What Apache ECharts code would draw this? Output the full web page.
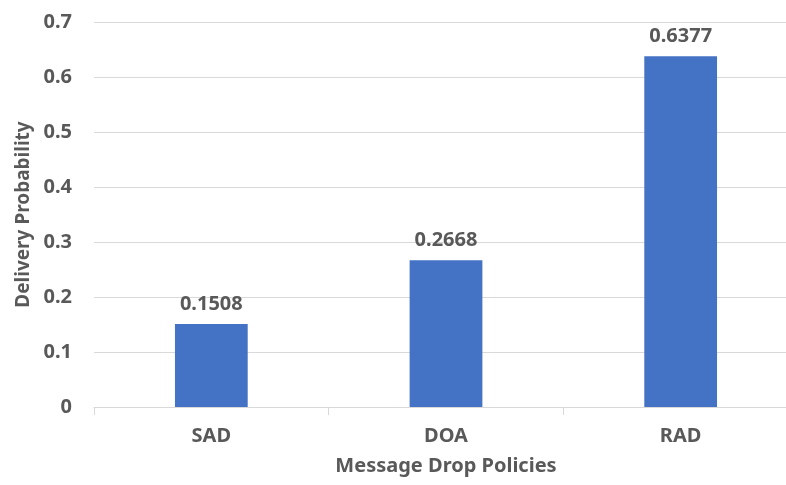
<!DOCTYPE html>
<html>
<head>
<meta charset="utf-8">
<script src="https://cdn.jsdelivr.net/npm/echarts@6/dist/echarts.min.js"></script>
<style>
  html, body { margin: 0; padding: 0; background: #fff; overflow: hidden; }
  /* plot area runs a bit past the right edge in the reference, so the chart is wider than the window */
  #chart { width: 798px; height: 485px; }
</style>
</head>
<body>
<div id="chart"></div>
<script>
  // data
  var policies = ['SAD', 'DOA', 'RAD'];
  var deliveryProb = [0.1508, 0.2668, 0.6377];

  var textGray = '#595959';
  var fontFam = '"Noto Sans", "Open Sans", sans-serif';

  var chart = echarts.init(document.getElementById('chart'));
  chart.setOption({
    backgroundColor: '#fff',
    animation: false,
    grid: {
      left: 94,
      top: 22,
      bottom: 78,
      right: 0
    },
    xAxis: {
      type: 'category',
      data: policies,
      name: 'Message Drop Policies',
      nameLocation: 'middle',
      nameGap: 49,
      nameTextStyle: { color: textGray, fontSize: 20, fontWeight: 'bold', fontFamily: fontFam },
      axisLine: { lineStyle: { color: '#d9d9d9', width: 1 } },
      axisTick: { show: true, length: 8, lineStyle: { color: '#d9d9d9' } },
      axisLabel: { color: textGray, fontSize: 20, fontWeight: 'bold', fontFamily: fontFam, margin: 19 }
    },
    yAxis: {
      type: 'value',
      min: 0,
      max: 0.7,
      interval: 0.1,
      name: 'Delivery Probability',
      nameLocation: 'middle',
      nameGap: 59,
      nameTextStyle: { color: textGray, fontSize: 19, fontWeight: 'bold', fontFamily: fontFam },
      axisLine: { show: false },
      axisTick: { show: false },
      splitLine: { lineStyle: { color: '#d9d9d9', width: 1 } },
      axisLabel: {
        color: textGray, fontSize: 20, fontWeight: 'bold', fontFamily: fontFam, margin: 22,
        formatter: function (v) { return v === 0 ? '0' : v.toFixed(1); }
      }
    },
    series: [{
      type: 'bar',
      data: deliveryProb,
      barWidth: '31%',
      itemStyle: { color: '#4472c4' },
      label: {
        show: true,
        position: 'top',
        distance: 10,
        color: textGray,
        fontSize: 20,
        fontWeight: 'bold',
        fontFamily: fontFam,
        formatter: function (p) { return p.value.toFixed(4); }
      }
    }]
  });
</script>
</body>
</html>
